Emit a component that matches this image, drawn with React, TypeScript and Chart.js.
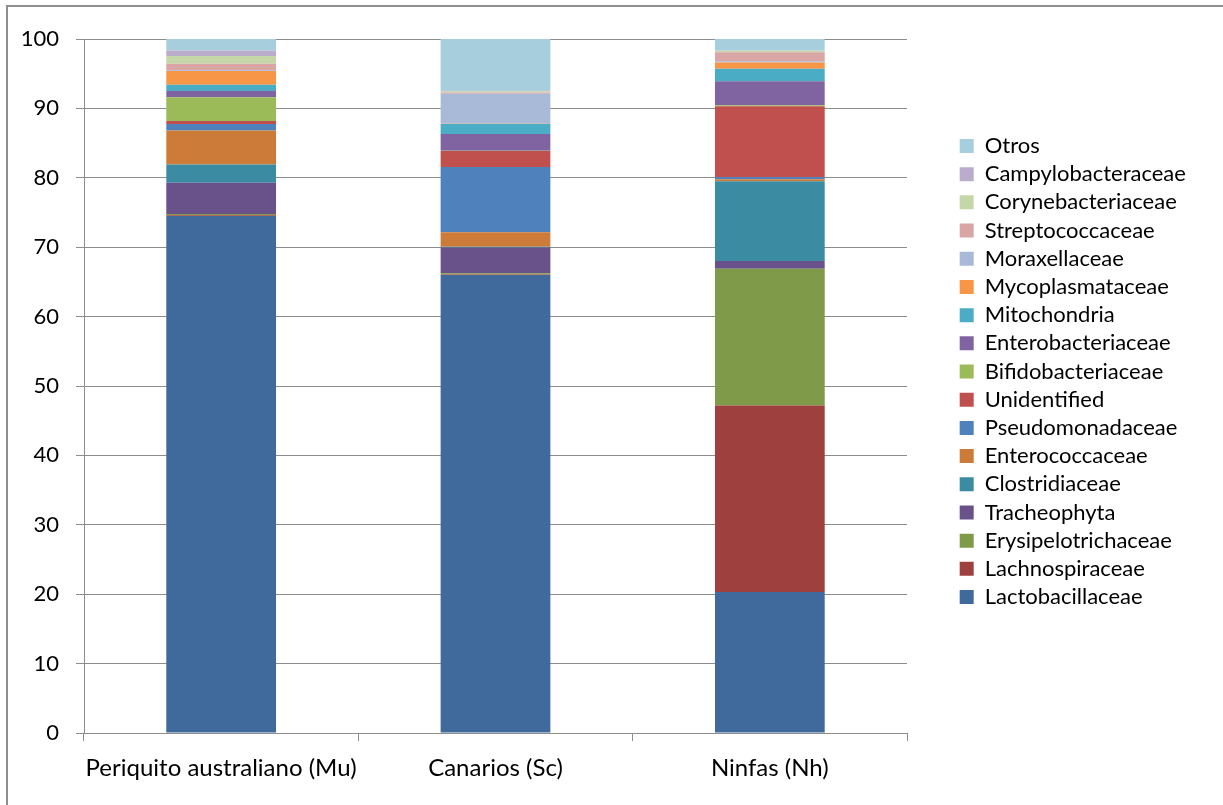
import React, { useEffect, useRef } from "react";
import { Chart, registerables } from "chart.js";

Chart.register(...registerables);

// ---- Data ----
const categories = ["Periquito australiano (Mu)", "Canarios (Sc)", "Ninfas (Nh)"];

const families = [
  "Lactobacillaceae",
  "Lachnospiraceae",
  "Erysipelotrichaceae",
  "Tracheophyta",
  "Clostridiaceae",
  "Enterococcaceae",
  "Pseudomonadaceae",
  "Unidentified",
  "Bifidobacteriaceae",
  "Enterobacteriaceae",
  "Mitochondria",
  "Mycoplasmataceae",
  "Moraxellaceae",
  "Streptococcaceae",
  "Corynebacteriaceae",
  "Campylobacteraceae",
  "Otros",
];

const lactobacillaceae = [74.5, 66.0, 20.3];
const lachnospiraceae = [0.1, 0.05, 26.9];
const erysipelotrichaceae = [0.2, 0.2, 19.7];
const tracheophyta = [4.5, 3.7, 1.1];
const clostridiaceae = [2.6, 0.1, 11.5];
const enterococcaceae = [4.9, 2.1, 0.3];
const pseudomonadaceae = [0.95, 9.4, 0.3];
const unidentified = [0.45, 2.3, 10.2];
const bifidobacteriaceae = [3.4, 0.05, 0.15];
const enterobacteriaceae = [0.9, 2.4, 3.45];
const mitochondria = [0.9, 1.45, 1.8];
const mycoplasmataceae = [2.0, 0.05, 0.9];
const moraxellaceae = [0.1, 4.3, 0.2];
const streptococcaceae = [0.95, 0.2, 1.3];
const corynebacteriaceae = [1.1, 0.15, 0.2];
const campylobacteraceae = [0.8, 0.1, 0.05];
const otros = [1.65, 7.45, 1.65];

const seriesValues = [
  lactobacillaceae,
  lachnospiraceae,
  erysipelotrichaceae,
  tracheophyta,
  clostridiaceae,
  enterococcaceae,
  pseudomonadaceae,
  unidentified,
  bifidobacteriaceae,
  enterobacteriaceae,
  mitochondria,
  mycoplasmataceae,
  moraxellaceae,
  streptococcaceae,
  corynebacteriaceae,
  campylobacteraceae,
  otros,
];

const seriesColors = [
  "#3F6A9B",
  "#9E413E",
  "#7F9A48",
  "#69528A",
  "#3B8BA3",
  "#CC7B38",
  "#4F81BD",
  "#C0504D",
  "#9BBB59",
  "#8064A2",
  "#4BACC6",
  "#F79646",
  "#A9B9D8",
  "#D9A6A5",
  "#C5D7A8",
  "#B9ADCB",
  "#A7CEDC",
];

const yMin = 0;
const yMax = 100;
const yStep = 10;

export default function App() {
  const canvasRef = useRef<HTMLCanvasElement>(null);

  useEffect(() => {
    if (!canvasRef.current) return;
    const family = "Lato, 'Noto Sans', sans-serif";
    const legendFont = { family, size: 22 };
    const yFont = { family, size: 22 };
    const xFont = { family, size: 24 };
    const gray = "#8c8c8c";

    const legendPlacer = {
      id: "legendPlacer",
      afterInit(chart: any) {
        const lg = chart.legend;
        if (!lg) return;
        const orig = lg.fit.bind(lg);
        lg.fit = function () {
          orig();
          this.width = 316;
        };
      },
      afterLayout(chart: any) {
        const lg = chart.legend;
        if (!lg) return;
        const w = lg.width;
        lg.left = 953.5;
        lg.right = lg.left + w;
        lg.top = 128.8;
        lg.bottom = lg.top + 780;
      },
    };

    const chart = new Chart(canvasRef.current, {
      type: "bar",
      data: {
        labels: categories,
        datasets: families.map((name, i) => ({
          label: name,
          data: seriesValues[i],
          backgroundColor: seriesColors[i],
          borderWidth: 0,
          barPercentage: 0.4,
          categoryPercentage: 1.0,
        })),
      },
      options: {
        animation: false,
        responsive: false,
        maintainAspectRatio: false,
        layout: { padding: { left: 0, top: 39, right: 0, bottom: 0 } },
        plugins: {
          tooltip: { enabled: false },
          legend: {
            position: "right",
            align: "start",
            reverse: true,
            labels: {
              boxWidth: 14,
              boxHeight: 14,
              padding: 6.19,
              color: "#000",
              font: legendFont,
            },
          },
        },
        scales: {
          x: {
            stacked: true,
            afterFit: (s: any) => {
              s.height = 72;
            },
            grid: {
              display: true,
              drawOnChartArea: false,
              offset: true,
              tickLength: 8,
              color: gray,
            },
            border: { display: true, color: gray, width: 1 },
            ticks: { color: "#000", font: xFont, padding: 13, maxRotation: 0 },
          },
          y: {
            stacked: true,
            min: yMin,
            max: yMax,
            afterFit: (s: any) => {
              s.width = 84;
            },
            grid: { color: gray, tickLength: 8, drawTicks: true },
            border: { display: true, color: gray, width: 1 },
            ticks: { stepSize: yStep, color: "#000", font: yFont, padding: 17 },
          },
        },
      },
      plugins: [legendPlacer],
    });

    return () => chart.destroy();
  }, []);

  return (
    <div style={{ position: "absolute", left: 0, top: 0, width: 1223, height: 805, background: "#fff", overflow: "hidden" }}>
      <div
        style={{
          position: "absolute",
          left: 6,
          top: 5,
          width: 1300,
          height: 900,
          borderLeft: "2px solid #8e8e8e",
          borderTop: "2px solid #8e8e8e",
        }}
      />
      <canvas ref={canvasRef} width={1223} height={805} style={{ position: "absolute", left: 0, top: 0, display: "block" }} />
    </div>
  );
}
